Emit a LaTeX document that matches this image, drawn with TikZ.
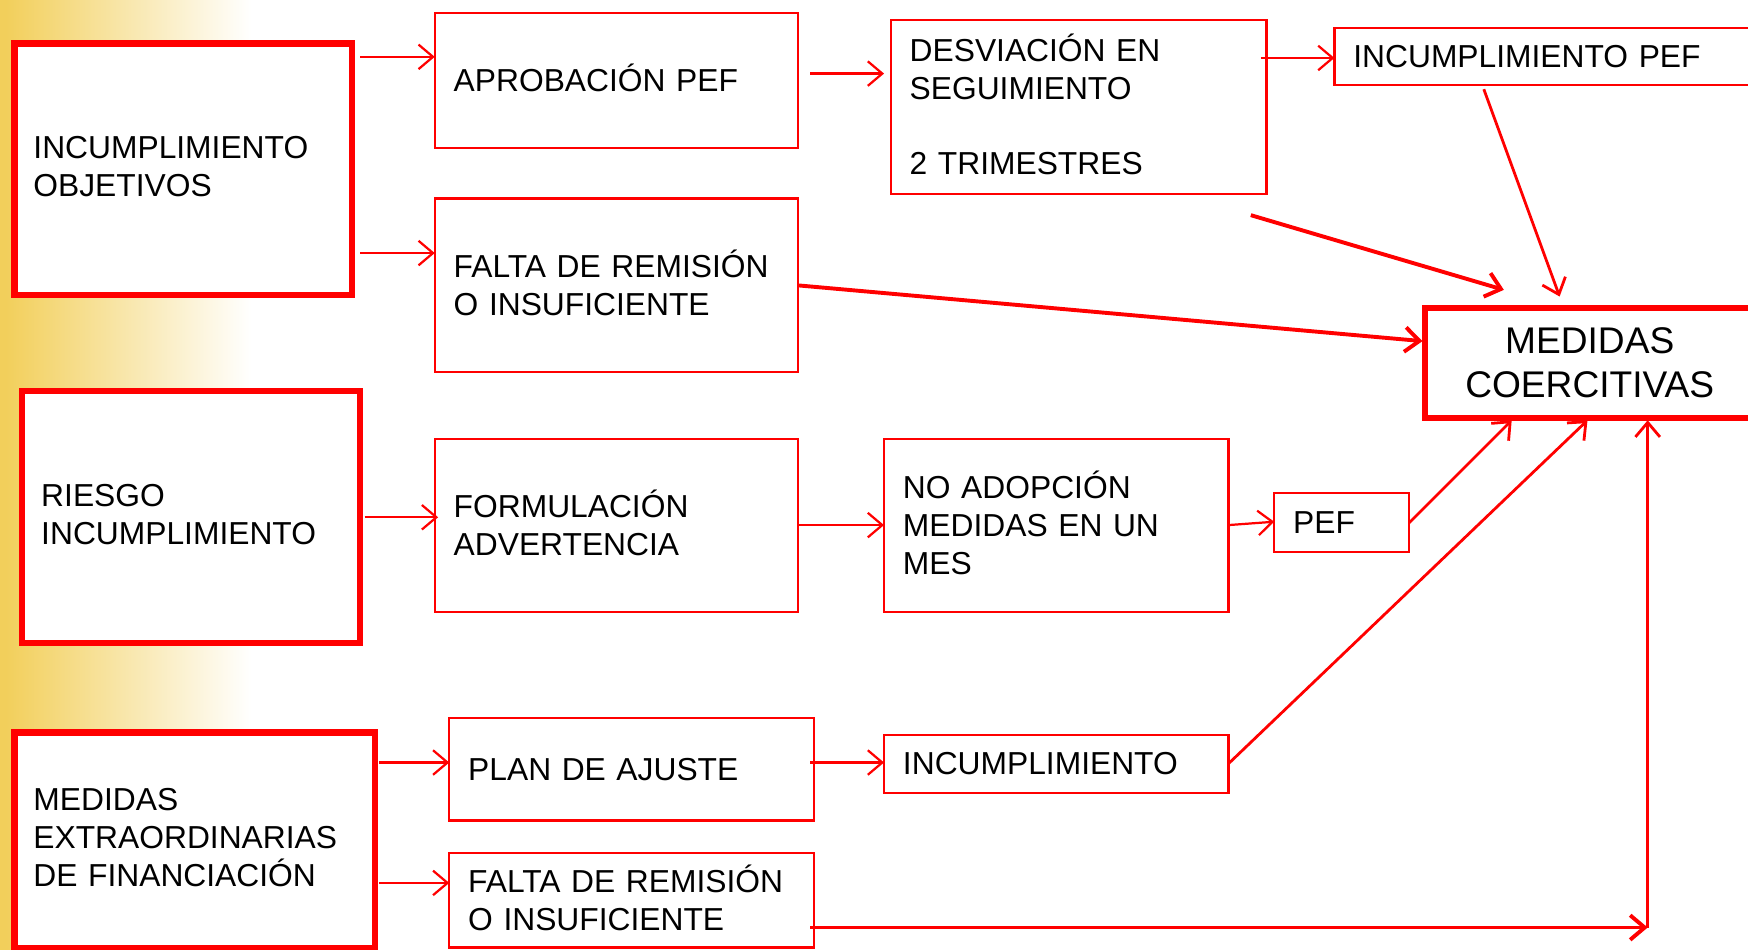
\documentclass[tikz,border=0pt]{standalone}
\usepackage{fontspec}
\setmainfont{Liberation Sans}
\usetikzlibrary{arrows.meta,calc}
\definecolor{gold}{HTML}{F2CF5B}
\definecolor{rd}{HTML}{FF0000}
\tikzset{
  box/.style={draw=rd, fill=white, line width=2pt, rectangle, anchor=north west, outer sep=0pt,
    inner xsep=17pt, inner ysep=0pt, align=left, font=\fontsize{28.5}{34}\selectfont},
  lift/.style={execute at end node={\par\vspace{4.5pt}}},
  bigbox/.style={box, line width=5.5pt},
  sz/.style n args={3}{minimum width=#1pt, minimum height=#2pt, text width=#3pt},
  arr/.style={draw=rd, line width=2pt, -{Straight Barb[length=13pt,width=22pt]}},
  arrthick/.style={arr, line width=3.5pt},
}
\begin{document}
\begin{tikzpicture}[x=1pt,y=-1pt]
\useasboundingbox (0,0) rectangle (1568,852);
\clip (0,0) rectangle (1568,852);
\shade[left color=gold, right color=white] (5,0) rectangle (225,852);
\fill[gold] (0,0) rectangle (6,852);

\node[bigbox, lift, sz={303}{226}{269}] (IO) at (13,39) {INCUMPLIMIENTO\\OBJETIVOS};
\node[box, lift, sz={326}{121}{292}] (AP) at (390,12) {APROBACIÓN PEF};
\node[box, lift, sz={337}{156}{303}] (DS) at (799,18) {DESVIACIÓN EN\\SEGUIMIENTO\\[34pt]2 TRIMESTRES};
\node[box, sz={393}{51}{359}] (IP) at (1197,25) {INCUMPLIMIENTO PEF};
\node[box, lift, sz={326}{156}{292}] (FR1) at (390,178) {FALTA DE REMISIÓN\\O INSUFICIENTE};
\node[bigbox, inner xsep=0pt, align=center, font=\fontsize{33.3}{40}\selectfont, sz={296}{99}{296}] (MC) at (1278,276) {MEDIDAS\\COERCITIVAS};
\node[bigbox, lift, sz={303}{226}{269}] (RI) at (20,351) {RIESGO\\INCUMPLIMIENTO};
\node[box, lift, sz={326}{155}{292}] (FA) at (390,394) {FORMULACIÓN\\ADVERTENCIA};
\node[box, lift, sz={309}{155}{275}] (NA) at (793,394) {NO ADOPCIÓN\\MEDIDAS EN UN\\MES};
\node[box, sz={121}{53}{87}] (PEF) at (1143,442) {PEF};
\node[bigbox, lift, sz={323}{193}{289}] (ME) at (13,657) {MEDIDAS\\EXTRAORDINARIAS\\DE FINANCIACIÓN};
\node[box, sz={327}{92}{293}] (PA) at (403,644) {PLAN DE AJUSTE};
\node[box, sz={309}{52}{275}] (IN) at (793,659) {INCUMPLIMIENTO};
\node[box, lift, sz={327}{85}{293}] (FR2) at (403,765) {FALTA DE REMISIÓN\\O INSUFICIENTE};

\coordinate (corner) at (1478,832);

\draw[arr] ([shift={(7,12)}]IO.north east) -- ([shift={(0,39)}]AP.north west);
\draw[arr] ([shift={(7,188)}]IO.north east) -- ([shift={(0,49)}]FR1.north west);
\draw[arr] ([shift={(11,54)}]AP.north east) -- ([shift={(-6,48)}]DS.north west);
\draw[arr] ([shift={(-5,34)}]DS.north east) -- ([shift={(0,27)}]IP.north west);
\draw[arr, line width=2.5pt] ([shift={(134,4)}]IP.south west) -- ([shift={(121,-10)}]MC.north west);
\draw[arrthick] ([shift={(-14,19)}]DS.south east) -- ([shift={(71,-16)}]MC.north west);
\draw[arrthick] ([shift={(0,78)}]FR1.north east) -- ([shift={(-2,30)}]MC.north west);
\draw[arr] ([shift={(4,113)}]RI.north east) -- ([shift={(3,70)}]FA.north west);
\draw[arr] ([shift={(0,77)}]FA.north east) -- ([shift={(0,77)}]NA.north west);
\draw[arr] ([shift={(0,77)}]NA.north east) -- ([shift={(0,26)}]PEF.north west);
\draw[arr, line width=2.5pt] ([shift={(0,27)}]PEF.north east) -- ([shift={(78,2)}]MC.south west);
\draw[arr, line width=2.5pt] ([shift={(0,26)}]IN.north east) -- ([shift={(146,2)}]MC.south west);
\draw[arrthick] ([shift={(-3,67)}]FR2.north east) -- (corner);
\draw[arr, line width=2.5pt] (corner) -- ([shift={(200,2)}]MC.south west);
\draw[arr] ([shift={(4,27)}]ME.north east) -- ([shift={(0,40)}]PA.north west);
\draw[arr] ([shift={(4,135)}]ME.north east) -- ([shift={(0,27)}]FR2.north west);
\draw[arr] ([shift={(-3,40)}]PA.north east) -- ([shift={(0,25)}]IN.north west);
\end{tikzpicture}
\end{document}
